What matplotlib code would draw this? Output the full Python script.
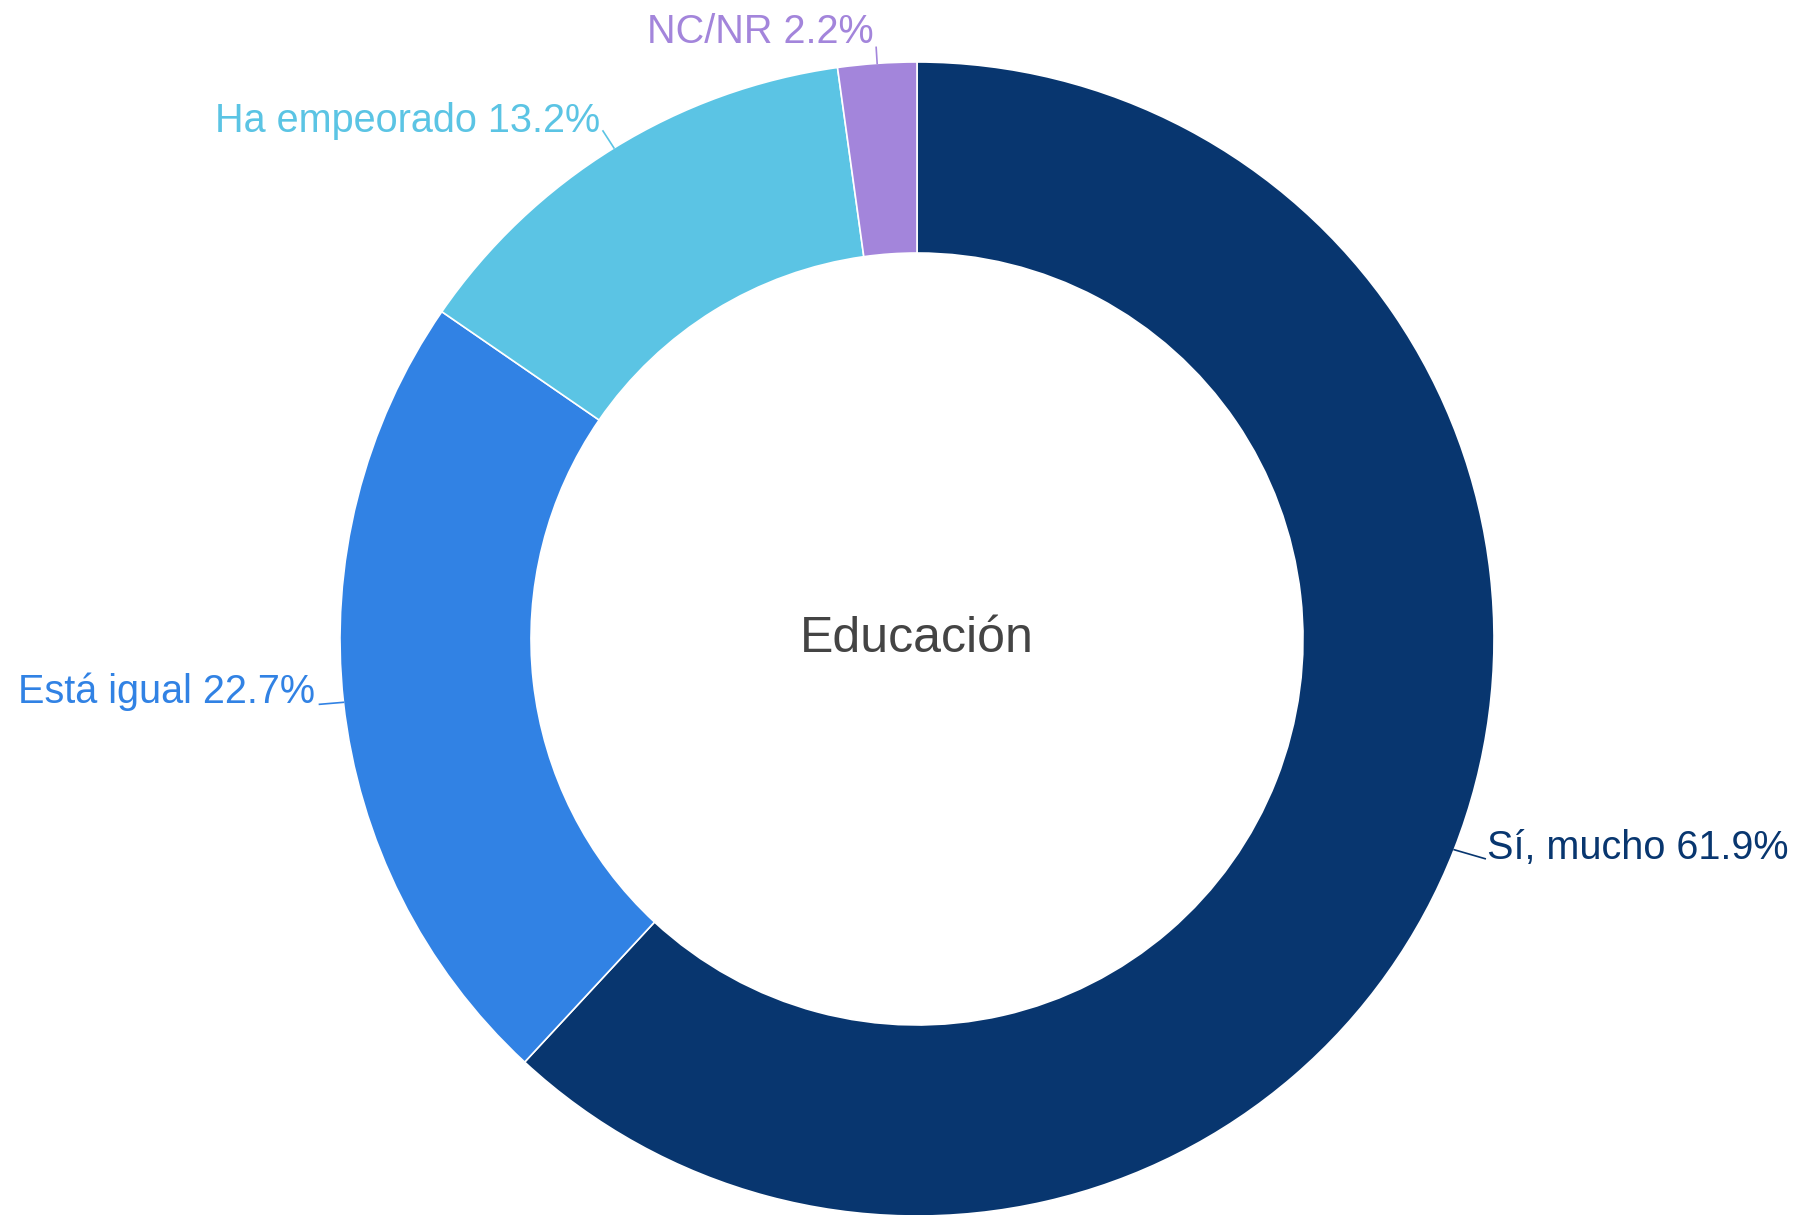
import matplotlib.pyplot as plt
import numpy as np

plt.rcParams['font.family'] = ['Liberation Sans', 'DejaVu Sans']

categorias = ['Sí, mucho', 'Está igual', 'Ha empeorado', 'NC/NR']
porcentajes = [61.9, 22.7, 13.2, 2.2]
colores = ['#08366f', '#3182e4', '#5bc4e4', '#a385db']
titulo_centro = 'Educación'

W, H = 1798, 1215
fig = plt.figure(figsize=(W / 100, H / 100), dpi=100)
ax = fig.add_axes([0, 0, 1, 1])

cx, cy = 917, H - 639
r_ext = 577
r_int = 386

wedges, _ = ax.pie(porcentajes, colors=colores, startangle=90, counterclock=False,
                   center=(cx, cy), radius=r_ext,
                   wedgeprops=dict(width=r_ext - r_int, edgecolor='white', linewidth=1.2))

# desplazamientos de la línea guía y del texto (en píxeles, y hacia arriba)
guia = [(31, -9), (-24, -2), (-11, 17), (-1, 16)]
texto = [(33, -9), (-28, -1), (-14, 16), (-4, 20)]
alin = ['left', 'right', 'right', 'right']

for w, c, p, col, g, t, ha in zip(wedges, categorias, porcentajes, colores, guia, texto, alin):
    ang = np.deg2rad((w.theta1 + w.theta2) / 2)
    x0 = cx + r_ext * np.cos(ang)
    y0 = cy + r_ext * np.sin(ang)
    ax.plot([x0, x0 + g[0]], [y0, y0 + g[1]], color=col, lw=1.2)
    ax.text(x0 + t[0], y0 + t[1], f'{c} {p}%', color=col, fontsize=28.5,
            ha=ha, va='baseline')

ax.text(cx, cy, titulo_centro, ha='center', va='center', fontsize=36, color='#444444')

ax.set_xlim(0, W)
ax.set_ylim(0, H)
ax.set_aspect('equal')
ax.axis('off')

fig.savefig('out.png', dpi=100, facecolor='white')
